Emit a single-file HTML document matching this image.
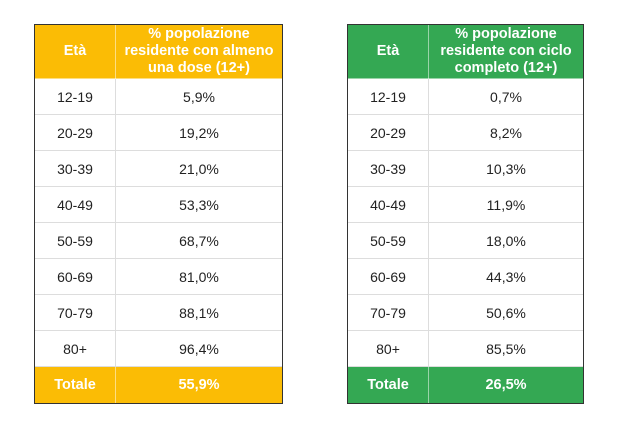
<!DOCTYPE html><html><head><style>
body{margin:0;width:628px;height:437px;background:#fff;font-family:"Liberation Sans",Arial,sans-serif;position:relative}
.w{position:absolute;top:24px;border:1.5px solid #333}
table{border-collapse:collapse;font-size:14px;color:#222;width:100%;border-style:hidden}
td{text-align:center;height:35px;border:1px solid #ddd;padding:0}
tr.h td{height:53px;color:#fff;font-weight:bold;font-size:14.5px;line-height:17px;border-color:rgba(255,255,255,.5)}
tr.t td{height:36px;color:#fff;font-weight:bold;font-size:14.5px;border-color:rgba(255,255,255,.5)}
.y tr.h td,.y tr.t td{background:#FBBC05}
.g tr.h td,.g tr.t td{background:#34A853}
</style></head><body>
<div class="w" style="left:34px;width:247px"><table class="y"><tr class="h"><td style="width:80px">Età</td><td>% popolazione<br>residente con almeno<br>una dose (12+)</td></tr>
<tr><td>12-19</td><td>5,9%</td></tr><tr><td>20-29</td><td>19,2%</td></tr><tr><td>30-39</td><td>21,0%</td></tr><tr><td>40-49</td><td>53,3%</td></tr><tr><td>50-59</td><td>68,7%</td></tr><tr><td>60-69</td><td>81,0%</td></tr><tr><td>70-79</td><td>88,1%</td></tr><tr><td>80+</td><td>96,4%</td></tr>
<tr class="t"><td>Totale</td><td>55,9%</td></tr></table></div>
<div class="w" style="left:347px;width:235px"><table class="g"><tr class="h"><td style="width:80px">Età</td><td>% popolazione<br>residente con ciclo<br>completo (12+)</td></tr>
<tr><td>12-19</td><td>0,7%</td></tr><tr><td>20-29</td><td>8,2%</td></tr><tr><td>30-39</td><td>10,3%</td></tr><tr><td>40-49</td><td>11,9%</td></tr><tr><td>50-59</td><td>18,0%</td></tr><tr><td>60-69</td><td>44,3%</td></tr><tr><td>70-79</td><td>50,6%</td></tr><tr><td>80+</td><td>85,5%</td></tr>
<tr class="t"><td>Totale</td><td>26,5%</td></tr></table></div>
</body></html>
